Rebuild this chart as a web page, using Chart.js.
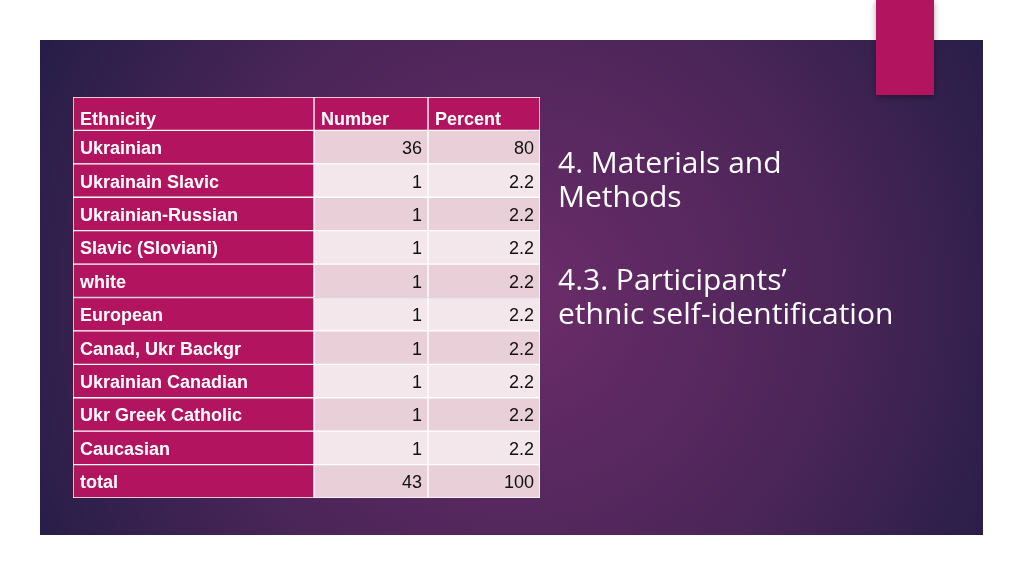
<!DOCTYPE html>
<html><head><meta charset="utf-8">
<script src="https://cdn.jsdelivr.net/npm/chart.js@4"></script>
<style>html,body{margin:0;padding:0;background:#fff;overflow:hidden}#w{width:1024px;height:575px;position:relative}</style>
</head><body><div id="w"><canvas id="c" width="1024" height="575"></canvas></div>
<script>
const headers = ["Ethnicity","Number","Percent"];
const categories = ["Ukrainian","Ukrainain Slavic","Ukrainian-Russian","Slavic (Sloviani)","white","European","Canad, Ukr Backgr","Ukrainian Canadian","Ukr Greek Catholic","Caucasian","total"];
const numbers = ["36","1","1","1","1","1","1","1","1","1","43"];
const percents = ["80","2.2","2.2","2.2","2.2","2.2","2.2","2.2","2.2","2.2","100"];

const rows = [headers[0], ...categories];
const colB = [[0,241],[241,355],[355,467]];
const MAG = "#b3145f";
const dark = "#e9cfd8", light = "#f4e7eb";
function fillFor(col,row){ if(col===0||row===0) return MAG; return (row%2===1)?dark:light; }

const datasets = colB.map((b,ci)=>({
  data: rows.map(()=>b),
  backgroundColor: rows.map((_,ri)=>fillFor(ci,ri)),
  borderColor:"#ffffff", borderWidth:1, borderSkipped:false,
  barPercentage:1, categoryPercentage:1, grouped:false
}));

const bg = {id:"bg", beforeDraw(ch){
  const c=ch.ctx; c.save();
  c.fillStyle="#fff"; c.fillRect(0,0,1024,575);
  const g=c.createRadialGradient(520,300,20,520,300,560);
  g.addColorStop(0,"#6a2c69"); g.addColorStop(0.55,"#4a2558"); g.addColorStop(1,"#231d45");
  c.fillStyle=g; c.fillRect(40,40,943,495);
  c.shadowColor="rgba(0,0,0,0.35)"; c.shadowBlur=6; c.shadowOffsetY=2;
  c.fillStyle="#b3145f"; c.fillRect(876,0,58,95);
  c.restore();
}};
const txt = {id:"txt", afterDatasetsDraw(ch){
  const c=ch.ctx, x=ch.scales.x, y=ch.scales.y; c.save();
  const h=Math.abs(y.getPixelForValue(1)-y.getPixelForValue(0));
  rows.forEach((r,ri)=>{
    const cy=y.getPixelForValue(ri);
    const by = ri===0 ? cy+h/2-5 : cy+7;
    const vals=[r, ri===0?headers[1]:numbers[ri-1], ri===0?headers[2]:percents[ri-1]];
    vals.forEach((v,ci)=>{
      const x0=x.getPixelForValue(colB[ci][0]), x1=x.getPixelForValue(colB[ci][1]);
      if(ci===0||ri===0){c.font="bold 18px 'Liberation Sans'";c.fillStyle="#fff";c.textAlign="left";c.fillText(v,x0+7,by);}
      else{c.font="18px 'Liberation Sans'";c.fillStyle="#111";c.textAlign="right";c.fillText(v,x1-6,by);}
    });
  });
  c.fillStyle="#fff"; c.textAlign="left"; c.font="30px 'Open Sans'";
  c.fillText("4. Materials and",558,173); c.fillText("Methods",558,207);
  c.fillText("4.3. Participants’",558,290); c.fillText("ethnic self-identification",558,324);
  c.restore();
}};
new Chart(document.getElementById("c"),{
  type:"bar",
  data:{labels:rows, datasets},
  options:{indexAxis:"y", responsive:false, animation:false, events:[],
    layout:{padding:{left:73,right:484,top:97,bottom:77}},
    plugins:{legend:{display:false},tooltip:{enabled:false}},
    scales:{x:{type:"linear",min:0,max:467,display:false},y:{display:false}}},
  plugins:[bg,txt]
});
</script></body></html>
